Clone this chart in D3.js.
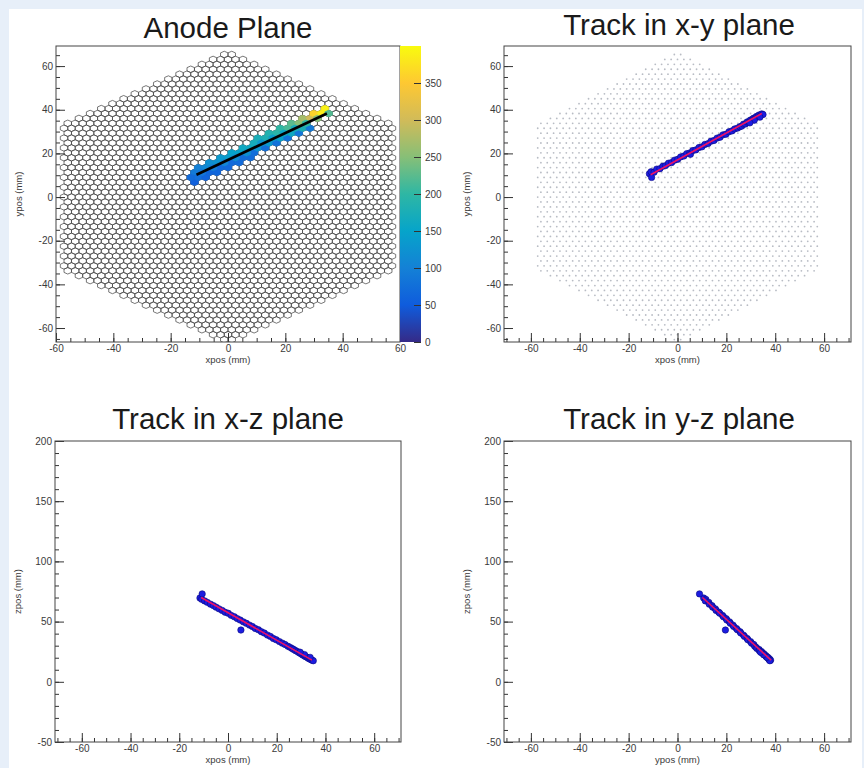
<!DOCTYPE html>
<html>
<head>
<meta charset="utf-8">
<script src="https://cdn.jsdelivr.net/npm/d3@7"></script>
<style>
  body { margin: 0; background: #e7eff9; }
  svg { display: block; }
  text { font-family: "Liberation Sans", Arial, sans-serif; }
</style>
</head>
<body>
<svg id="chart" width="864" height="768"></svg>
<script>
// ---- data ----
const xyTicks = [-60, -40, -20, 0, 20, 40, 60];
const zTicks = [-50, 0, 50, 100, 150, 200];
const chargeTicks = [0, 50, 100, 150, 200, 250, 300, 350];
const chargeMax = 400;

// anode pads (mm)
const PAD_PITCH = 2.6;
const ANODE_RADIUS = 67.5;

// hit pads along the track on the anode: centre x, y (mm)
const hitX = [-12.35, -11.05, -9.75, -8.45, -7.15, -5.85, -4.55, -3.25, -1.95, -0.65, 0.65, 1.95, 3.25,
  4.55, 5.85, 7.15, 8.45, 9.75, 11.05, 12.35, 13.65, 14.95, 16.25, 17.55, 18.85, 20.15, 21.45, 22.75,
  24.05, 25.35, 26.65, 27.95, 29.25, 30.55, 31.85, 33.15, 34.45, 35.75];
const hitY = [9.16, 9.97, 10.78, 11.59, 12.39, 13.20, 14.01, 14.82, 15.63, 16.44, 17.25, 18.05, 18.86,
  19.67, 20.48, 21.29, 22.10, 22.91, 23.72, 24.52, 25.33, 26.14, 26.95, 27.76, 28.57, 29.38, 30.18, 30.99,
  31.80, 32.61, 33.42, 34.23, 35.04, 35.84, 36.65, 37.46, 38.27, 39.08];
// charge of the pad above the track, on it and below it (0 = no hit)
const qAbove = [0, 90, 100, 110, 115, 120, 125, 130, 135, 140, 145, 150, 150, 155, 160, 160, 165, 170, 175,
  175, 180, 185, 190, 195, 200, 205, 215, 225, 235, 250, 270, 300, 330, 360, 385, 390, 0, 0];
const qOn = [70, 75, 80, 85, 90, 95, 95, 100, 100, 105, 110, 110, 115, 115, 120, 120, 125, 125, 130, 130,
  135, 140, 140, 145, 150, 155, 160, 165, 170, 180, 190, 200, 215, 230, 250, 260, 220, 190];
const qBelow = [50, 55, 58, 60, 60, 62, 64, 65, 66, 66, 68, 68, 70, 70, 72, 72, 74, 74, 75, 76, 76, 78, 78,
  80, 80, 82, 82, 84, 85, 86, 88, 90, 0, 0, 0, 0, 0, 0];

// reconstructed track points (mm)
const trackX = [-11.5, -10.8, -9.6, -8.5, -7.2, -6.0, -4.9, -3.7, -2.4, -1.2, 0.1, 1.3, 2.6, 3.8, 5.0, 5.3,
  6.3, 7.5, 8.8, 10.0, 11.2, 12.5, 13.7, 14.9, 16.2, 17.4, 18.6, 19.8, 21.1, 22.3, 23.4, 24.6, 25.5,
  26.3, 27.0, 27.8, 28.5, 29.2, 29.9, 30.5, 31.1, 31.7, 32.3, 32.9, 33.4, 34.0, 34.5, 35.0, 33.7, 31.4, 29.6, -10.6];
const trackY = [10.7, 11.6, 11.4, 12.8, 13.0, 14.1, 14.4, 15.5, 15.8, 16.9, 17.3, 18.4, 18.8, 19.9, 20.2, 19.6,
  21.3, 21.6, 22.7, 23.0, 24.1, 24.5, 25.6, 25.9, 27.0, 27.4, 28.5, 28.8, 29.9, 30.3, 31.2, 31.6, 32.2,
  32.5, 33.4, 33.5, 34.4, 34.5, 35.3, 35.4, 36.1, 36.2, 36.9, 37.0, 37.6, 37.5, 38.1, 37.8, 36.6, 35.2, 34.0, 9.0];
const trackZ = [69.6, 68.5, 67.2, 66.0, 64.5, 63.3, 62.0, 60.6, 59.3, 57.8, 56.9, 55.2, 54.0, 52.5, 51.3, 43.0,
  49.8, 48.6, 47.1, 45.9, 44.3, 43.2, 41.6, 40.5, 38.8, 37.7, 36.0, 34.9, 33.4, 32.1, 31.0, 29.5, 28.6,
  27.6, 26.8, 25.8, 25.1, 24.1, 23.4, 22.5, 21.9, 21.0, 20.5, 19.6, 19.2, 18.4, 18.0, 17.5, 20.3, 22.6, 24.6, 73.0];

// fitted track end points (mm)
const fitX = [-11, 34.5];
const fitY = [10.2, 38.3];
const fitZ = [70, 18];

// ROOT kBird palette stops
const birdStops = ["#352a87", "#0f5cdd", "#1481d6", "#06a4ca", "#2eb7a4", "#87bf77", "#d1bb59", "#fec832", "#f9fb0e"];

// ---- layout ----
const panels = [
  {id: "anode", title: "Anode Plane", tx: 228, ty: 38, x0: 56, x1: 400, y0: 46, y1: 342,
   xDom: [-60, 60], yDom: [-66.4, 69.2], xLab: "xpos (mm)", yLab: "ypos (mm)", yTicks: xyTicks, yMinor: 5},
  {id: "xy", title: "Track in x-y plane", tx: 679, ty: 35, x0: 504, x1: 851, y0: 46, y1: 342,
   xDom: [-71, 71], yDom: [-66.4, 69.2], xLab: "xpos (mm)", yLab: "ypos (mm)", yTicks: xyTicks, yMinor: 5},
  {id: "xz", title: "Track in x-z plane", tx: 228, ty: 429, x0: 55, x1: 401, y0: 441, y1: 742,
   xDom: [-71, 71], yDom: [-50, 200], xLab: "xpos (mm)", yLab: "zpos (mm)", yTicks: zTicks, yMinor: 10},
  {id: "yz", title: "Track in y-z plane", tx: 679, ty: 429, x0: 504, x1: 851, y0: 441, y1: 742,
   xDom: [-71, 71], yDom: [-50, 200], xLab: "ypos (mm)", yLab: "zpos (mm)", yTicks: zTicks, yMinor: 10}
];

const svg = d3.select("#chart");
svg.append("rect").attr("x", 9).attr("y", 9).attr("width", 853).attr("height", 759).attr("fill", "#fff");

const defs = svg.append("defs");

// pad lattice: horizontal rows, every other row shifted by half a pitch
const rowH = PAD_PITCH * Math.sqrt(3) / 2;
const padR = PAD_PITCH / Math.sqrt(3);
const pads = [];
const nRow = Math.ceil(ANODE_RADIUS / rowH);
for (let k = -nRow; k <= nRow; k++) {
  const off = ((k % 2) + 2) % 2 ? 0.5 : 0;
  const nCol = Math.ceil(ANODE_RADIUS / PAD_PITCH) + 1;
  for (let i = -nCol; i <= nCol; i++) {
    const cx = (i + off) * PAD_PITCH, cy = k * rowH;
    if (Math.abs(cx) <= 58 && Math.abs(cy) + Math.abs(cx) / Math.sqrt(3) <= ANODE_RADIUS) {
      pads.push({key: k + ":" + i, x: cx, y: cy});
    }
  }
}

function snapPad(x, y) {
  const k = Math.round(y / rowH);
  const off = ((k % 2) + 2) % 2 ? 0.5 : 0;
  const i = Math.round(x / PAD_PITCH - off);
  return {key: k + ":" + i, x: (i + off) * PAD_PITCH, y: k * rowH};
}

function hexPath(cx, cy, xs, ys) {
  let d = "";
  for (let v = 0; v < 6; v++) {
    const a = Math.PI / 6 + v * Math.PI / 3;
    d += (v ? "L" : "M") + xs(cx + padR * Math.cos(a)).toFixed(2) + "," + ys(cy + padR * Math.sin(a)).toFixed(2);
  }
  return d + "Z";
}

const color = d3.scaleLinear()
  .domain(birdStops.map((c, i) => i / (birdStops.length - 1) * chargeMax))
  .range(birdStops)
  .clamp(true);

panels.forEach(p => {
  const xs = d3.scaleLinear().domain(p.xDom).range([p.x0, p.x1]);
  const ys = d3.scaleLinear().domain(p.yDom).range([p.y1, p.y0]);
  p.xs = xs; p.ys = ys;

  defs.append("clipPath").attr("id", "clip-" + p.id)
    .append("rect").attr("x", p.x0).attr("y", p.y0).attr("width", p.x1 - p.x0).attr("height", p.y1 - p.y0);

  const g = svg.append("g");
  const plot = g.append("g").attr("clip-path", "url(#clip-" + p.id + ")");
  p.plot = plot;

  // title
  g.append("text").attr("x", p.tx).attr("y", p.ty).attr("text-anchor", "middle")
    .attr("font-size", 29.5).attr("fill", "#1a1a1a").text(p.title);

  // axes, ticks pointing inside the frame
  const xMinor = d3.range(Math.ceil(p.xDom[0] / 5) * 5, p.xDom[1] + 0.01, 5);
  const yMinor = d3.range(Math.ceil(p.yDom[0] / p.yMinor) * p.yMinor, p.yDom[1] + 0.01, p.yMinor);

  const axX = g.append("g").attr("transform", "translate(0," + p.y1 + ")");
  axX.call(d3.axisBottom(xs).tickValues(xyTicks).tickSize(-9).tickPadding(3).tickFormat(d => String(d)));
  axX.append("g").call(d3.axisBottom(xs).tickValues(xMinor).tickSize(-4).tickFormat(""));

  const axY = g.append("g").attr("transform", "translate(" + p.x0 + ",0)");
  axY.call(d3.axisLeft(ys).tickValues(p.yTicks).tickSize(-9).tickPadding(3).tickFormat(d => String(d)));
  axY.append("g").call(d3.axisLeft(ys).tickValues(yMinor).tickSize(-4).tickFormat(""));

  g.selectAll(".domain").remove();
  g.selectAll(".tick line").attr("stroke", "#333");
  g.selectAll(".tick text").attr("font-size", 10).attr("fill", "#3a3a3a")
    .attr("font-family", "Liberation Sans, Arial, sans-serif");

  // frame
  g.append("rect").attr("x", p.x0).attr("y", p.y0).attr("width", p.x1 - p.x0).attr("height", p.y1 - p.y0)
    .attr("fill", "none").attr("stroke", "#444").attr("stroke-width", 1);

  // axis titles
  g.append("text").attr("x", (p.x0 + p.x1) / 2).attr("y", p.y1 + 21).attr("text-anchor", "middle")
    .attr("font-size", 9.5).attr("fill", "#3a3a3a").text(p.xLab);
  g.append("text").attr("transform", "translate(" + (p.x0 - 34) + "," + ((p.y0 + p.y1) / 2) + ") rotate(-90)")
    .attr("text-anchor", "middle").attr("font-size", 9.5).attr("fill", "#3a3a3a").text(p.yLab);
});

// ---- panel 1: anode pads coloured by charge ----
(function() {
  const p = panels[0];
  let d = "";
  pads.forEach(c => { d += hexPath(c.x, c.y, p.xs, p.ys); });
  p.plot.append("path").attr("d", d).attr("fill", "#fff").attr("stroke", "#4a4a4a").attr("stroke-width", 0.75);

  // pads above / below the track sit one row away from it
  const hits = new Map();
  function addHit(x, y, q) {
    if (!q) return;
    const c = snapPad(x, y);
    const prev = hits.get(c.key);
    if (!prev || prev.q < q) hits.set(c.key, {x: c.x, y: c.y, q: q});
  }
  hitX.forEach((x, i) => {
    addHit(x, hitY[i] - rowH, qBelow[i]);
    addHit(x, hitY[i] + rowH, qAbove[i]);
  });
  hitX.forEach((x, i) => addHit(x, hitY[i], qOn[i]));

  p.plot.selectAll("path.hit").data(Array.from(hits.values())).join("path")
    .attr("class", "hit")
    .attr("d", c => hexPath(c.x, c.y, p.xs, p.ys))
    .attr("fill", c => color(c.q)).attr("stroke", c => color(c.q)).attr("stroke-width", 0.8);

  p.plot.append("line")
    .attr("x1", p.xs(fitX[0])).attr("y1", p.ys(fitY[0]))
    .attr("x2", p.xs(fitX[1])).attr("y2", p.ys(fitY[1]))
    .attr("stroke", "#000").attr("stroke-width", 2.6);

  // colour bar
  const cb = {x0: 400, x1: 421};
  const cs = d3.scaleLinear().domain([0, chargeMax]).range([p.y1, p.y0]);
  const grad = defs.append("linearGradient").attr("id", "bird").attr("x1", 0).attr("y1", 1).attr("x2", 0).attr("y2", 0);
  birdStops.forEach((c, i) => grad.append("stop").attr("offset", i / (birdStops.length - 1)).attr("stop-color", c));
  svg.append("rect").attr("x", cb.x0).attr("y", p.y0).attr("width", cb.x1 - cb.x0).attr("height", p.y1 - p.y0)
    .attr("fill", "url(#bird)");
  const axC = svg.append("g").attr("transform", "translate(" + cb.x1 + ",0)")
    .call(d3.axisRight(cs).tickValues(chargeTicks).tickSize(-7).tickPadding(4).tickFormat(d => String(d)));
  axC.select(".domain").remove();
  axC.selectAll(".tick line").attr("stroke", "#333");
  axC.selectAll(".tick text").attr("font-size", 10).attr("fill", "#3a3a3a")
    .attr("font-family", "Liberation Sans, Arial, sans-serif");
})();

// ---- panels 2-4: track points with fit ----
function drawTrack(p, xs, ys, fx, fy, withPads) {
  if (withPads) {
    p.plot.selectAll("circle.pad").data(pads).join("circle").attr("class", "pad")
      .attr("cx", c => p.xs(c.x)).attr("cy", c => p.ys(c.y)).attr("r", 0.9).attr("fill", "#b8bcc4");
  }
  p.plot.selectAll("circle.pt").data(xs).join("circle").attr("class", "pt")
    .attr("cx", (v, i) => p.xs(xs[i])).attr("cy", (v, i) => p.ys(ys[i]))
    .attr("r", 3.2).attr("fill", "#1c1ce0").attr("stroke", "#0a0a80").attr("stroke-width", 0.6);
  p.plot.append("line")
    .attr("x1", p.xs(fx[0])).attr("y1", p.ys(fy[0]))
    .attr("x2", p.xs(fx[1])).attr("y2", p.ys(fy[1]))
    .attr("stroke", "#ee1166").attr("stroke-width", 1.6);
}

drawTrack(panels[1], trackX, trackY, fitX, fitY, true);
drawTrack(panels[2], trackX, trackZ, fitX, fitZ, false);
drawTrack(panels[3], trackY, trackZ, fitY, fitZ, false);
</script>
</body>
</html>
